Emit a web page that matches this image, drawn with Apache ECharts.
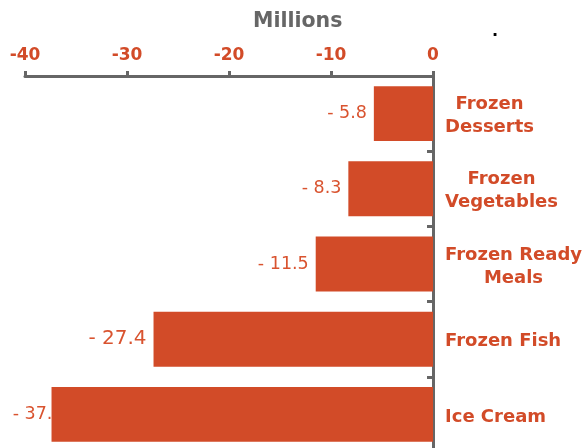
<!DOCTYPE html>
<html>
<head>
<meta charset="utf-8">
<script src="https://cdn.jsdelivr.net/npm/echarts@6/dist/echarts.min.js"></script>
<style>
  html, body { margin: 0; padding: 0; background: #ffffff; overflow: hidden; }
  #chart { width: 585px; height: 460px; }
</style>
</head>
<body>
<div id="chart"></div>
<script>
// Year-on-year change by frozen food category (millions)
const categories = ['Frozen\nDesserts', 'Frozen\nVegetables', 'Frozen Ready\nMeals', 'Frozen Fish', 'Ice Cream'];
const changes = [-5.8, -8.3, -11.5, -27.4, -37.4];
const xTicks = { min: -40, max: 0, step: 10 };

const ORANGE = '#D24B28';
const LABEL = '#D9532F';
const GREY = '#666666';
const FONT = '"DejaVu Sans", Verdana, sans-serif';

// Per-category label tweaks
const labelSize = { 'Frozen Fish': 20 };
const labelShift = { 'Ice Cream': 19 };

const labelData = changes.map((v, i) => ({
  value: v,
  label: {
    fontSize: labelSize[categories[i]] || 17.5,
    offset: [labelShift[categories[i]] || 0, 0]
  }
}));

const chart = echarts.init(document.getElementById('chart'), null, { renderer: 'canvas' });

chart.setOption({
  animation: false,
  // the plot runs slightly past the bottom edge of the page
  grid: { left: 25, right: 148, top: 76, bottom: 8, containLabel: false },
  title: {
    text: 'Millions',
    left: 248,
    top: 6,
    textStyle: { color: GREY, fontSize: 20.5, fontWeight: 'bold', fontFamily: FONT }
  },
  graphic: [{
    type: 'text',
    left: 492,
    top: 24,
    style: { text: '.', fill: '#000', font: 'bold 16px ' + FONT }
  }],
  xAxis: {
    type: 'value',
    position: 'top',
    min: xTicks.min,
    max: xTicks.max,
    interval: xTicks.step,
    axisLine: { show: true, lineStyle: { color: GREY, width: 3 } },
    axisTick: { show: true, length: 5, lineStyle: { color: GREY, width: 3 } },
    splitLine: { show: false },
    axisLabel: {
      color: ORANGE, fontSize: 17, fontWeight: 'bold', fontFamily: FONT, margin: 12
    }
  },
  yAxis: [{
    type: 'category',
    data: categories,
    inverse: true,
    position: 'right',
    axisLine: { show: true, lineStyle: { color: GREY, width: 3 } },
    axisTick: { show: true, inside: true, length: 6, lineStyle: { color: GREY, width: 3 } },
    splitLine: { show: false },
    axisLabel: {
      margin: 12,
      align: 'left',
      padding: [5, 0, 0, 0],
      formatter: v => v.split('\n').map(l => '{c|' + l + '}').join('\n'),
      rich: {
        c: {
          align: 'center', color: ORANGE, fontSize: 18, fontWeight: 'bold',
          fontFamily: FONT, lineHeight: 23
        }
      }
    }
  }, {
    type: 'category',
    data: categories,
    inverse: true,
    position: 'right',
    axisLine: { show: false },
    axisTick: { show: true, inside: true, alignWithLabel: true, length: 4, lineStyle: { color: GREY, width: 3 } },
    axisLabel: { show: false },
    splitLine: { show: false }
  }],
  series: [{
    // value labels, drawn beneath the bars
    type: 'bar',
    z: 1,
    data: labelData,
    barCategoryGap: '27%',
    itemStyle: { color: 'rgba(0,0,0,0)' },
    label: {
      show: true,
      position: 'left',
      distance: 7,
      color: LABEL,
      fontFamily: FONT,
      formatter: p => '- ' + Math.abs(p.value).toFixed(1)
    }
  }, {
    type: 'bar',
    z: 3,
    data: changes,
    barGap: '-100%',
    barCategoryGap: '27%',
    itemStyle: { color: ORANGE }
  }]
});
</script>
</body>
</html>
